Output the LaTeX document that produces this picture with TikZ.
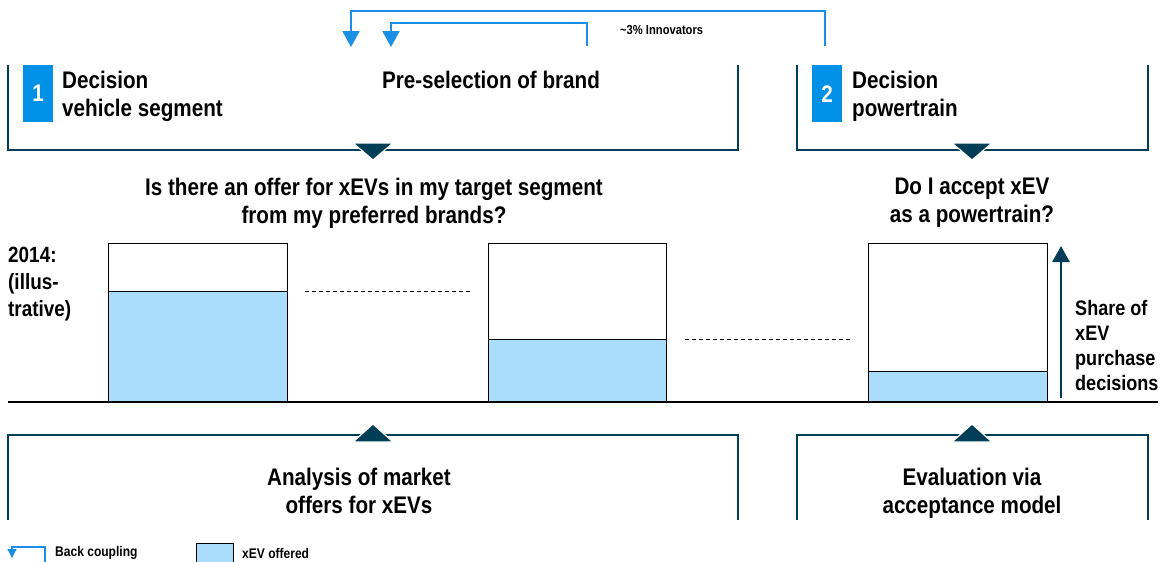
\documentclass[tikz,border=0pt]{standalone}
\usepackage{fontspec}
\setmainfont{Liberation Sans}[FakeStretch=0.86]
\usetikzlibrary{arrows.meta}
\definecolor{dteal}{HTML}{003E57}
\definecolor{fbblue}{HTML}{1A8FE3}
\definecolor{boxblue}{HTML}{0091E6}
\definecolor{lblue}{HTML}{A9DDFB}
\tikzset{
  bracket/.style={draw=dteal, line width=2.6pt},
  tri/.style={fill=dteal, draw=white, line width=1.2pt},
  big/.style={font=\bfseries\fontsize{24}{28}\selectfont, inner sep=0pt},
  mid/.style={font=\bfseries\fontsize{22}{27}\selectfont, inner sep=0pt, align=left},
  side/.style={font=\bfseries\fontsize{21}{25}\selectfont, inner sep=0pt, align=left},
  small/.style={font=\bfseries\fontsize{13}{15}\selectfont, inner sep=0pt},
  legend/.style={font=\bfseries\fontsize{14}{16}\selectfont, inner sep=0pt},
  numbox/.style={fill=boxblue, text=white, minimum width=30pt, minimum height=57pt, inner sep=0pt, font=\bfseries\fontsize{24}{28}\selectfont},
  fb/.style={draw=fbblue, line width=2pt, -{Triangle[width=17pt,length=16pt]}},
  fbsmall/.style={draw=fbblue, line width=1.2pt, -{Triangle[width=9pt,length=9pt]}},
  barline/.style={draw=black, line width=0.9pt},
  dashline/.style={draw=black, line width=0.7pt, dash pattern=on 4pt off 3pt},
  uparrow/.style={draw=dteal, line width=2.6pt, -{Triangle[width=17pt,length=16pt]}}
}
\begin{document}
\begin{tikzpicture}[x=1pt,y=-1pt]
\useasboundingbox (0,0) rectangle (1163,562);
% feedback (back coupling) arrows
\coordinate (fb1s) at (825,46);
\coordinate (fb1e) at (351,47);
\coordinate (fb2s) at (587,46);
\coordinate (fb2e) at (391,47);
\draw[fb] (fb1s) -- (825,11) -| (fb1e);
\draw[fb] (fb2s) -- (587,23) -| (fb2e);
\node[small, anchor=west] (innov) at (620,30) {\textasciitilde3\% Innovators};
% top brackets
\draw[bracket] (8,65) -- (8,150) -- (738,150) -- (738,65);
\draw[bracket] (797,65) -- (797,150) -- (1148,150) -- (1148,65);
\filldraw[tri] (353,143) -- (393,143) -- (373,160) -- cycle;
\filldraw[tri] (952,143) -- (992,143) -- (972,160) -- cycle;
\node[numbox, anchor=north west] (n1) at (23,65) {1};
\node[numbox, anchor=north west] (n2) at (812,65) {2};
\node[big, anchor=north west, align=left] (dec1) at (62,71) {Decision\\vehicle segment};
\node[big, anchor=north] (presel) at (491,71) {Pre-selection of brand};
\node[big, anchor=north west, align=left] (dec2) at (852,71) {Decision\\powertrain};
% questions
\node[big, anchor=north, align=center] (q1) at (374,178) {Is there an offer for xEVs in my target segment\\from my preferred brands?};
\node[big, anchor=north, align=center] (q2) at (972,178) {Do I accept xEV\\as a powertrain?};
% year label
\node[mid, anchor=north west] (year) at (8,247) {2014:\\(illus-\\trative)};
% bars
\fill[lblue] (108,291) rectangle (287,402);
\fill[lblue] (488,339) rectangle (666,402);
\fill[lblue] (868,371) rectangle (1047,402);
\draw[barline] (108,243) rectangle (287,402);
\draw[barline] (108,291) -- (287,291);
\draw[barline] (488,243) rectangle (666,402);
\draw[barline] (488,339) -- (666,339);
\draw[barline] (868,243) rectangle (1047,402);
\draw[barline] (868,371) -- (1047,371);
\draw[dashline] (305,291) -- (470,291);
\draw[dashline] (685,339) -- (852,339);
% baseline
\draw[draw=black, line width=1.2pt] (8,402) -- (1158,402);
% share arrow
\coordinate (ua1) at (1061,398);
\coordinate (ua2) at (1061,246);
\draw[uparrow] (ua1) -- (ua2);
\node[side, anchor=north west] (share) at (1075,300) {Share of\\xEV\\purchase\\decisions};
% bottom brackets
\draw[bracket] (8,520) -- (8,435) -- (738,435) -- (738,520);
\draw[bracket] (797,520) -- (797,435) -- (1148,435) -- (1148,520);
\filldraw[tri] (353,442) -- (393,442) -- (373,424) -- cycle;
\filldraw[tri] (952,442) -- (992,442) -- (972,424) -- cycle;
\node[big, anchor=north, align=center] (analysis) at (359,468) {Analysis of market\\offers for xEVs};
\node[big, anchor=north, align=center] (eval) at (972,468) {Evaluation via\\acceptance model};
% legend
\coordinate (lgs) at (45,562);
\coordinate (lge) at (12,558);
\draw[fbsmall] (lgs) -- (45,547) -| (lge);
\node[legend, anchor=west] (lg1) at (55,553) {Back coupling};
\draw[barline, fill=lblue] (196,543) rectangle (233,563);
\node[legend, anchor=west] (lg2) at (242,553) {xEV offered};
\end{tikzpicture}
\end{document}
